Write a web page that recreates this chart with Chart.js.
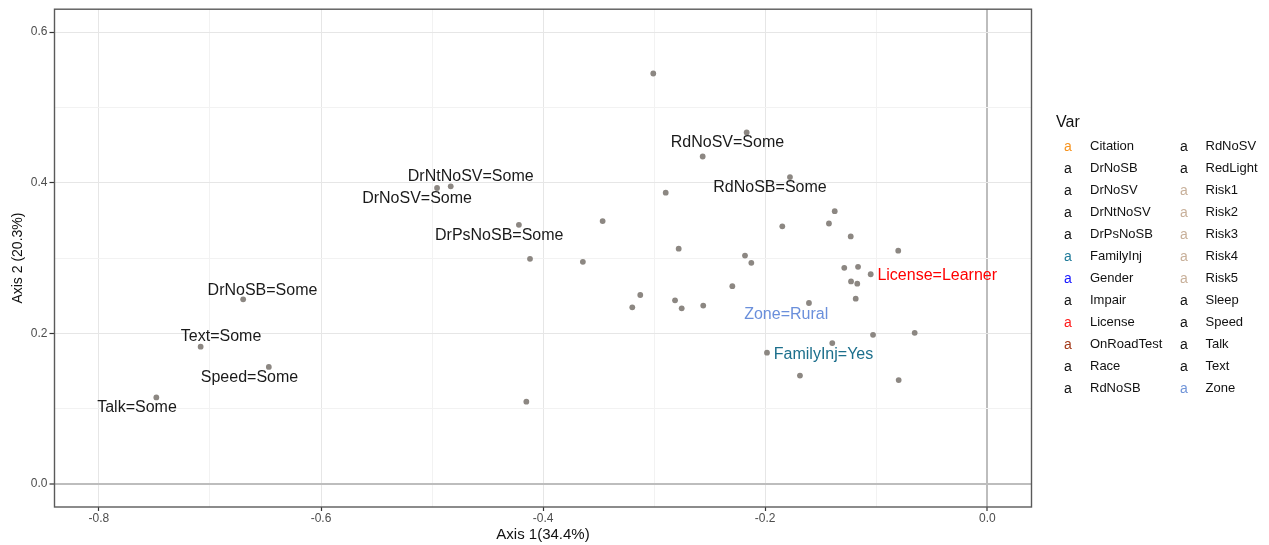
<!DOCTYPE html>
<html><head><meta charset="utf-8">
<script src="https://cdn.jsdelivr.net/npm/chart.js@4.4.1/dist/chart.umd.min.js"></script>
<style>html,body{margin:0;padding:0;background:#fff;}</style>
</head><body>
<canvas id="c" width="1269" height="545" style="width:1269px;height:545px;display:block"></canvas>
<script>
// Category points (Axis 1, Axis 2)
const pointX = [-0.3008,-0.2167,-0.2563,-0.1777,-0.2896,-0.3464,-0.1374,-0.1846,-0.1426,-0.1230,
  -0.2779,-0.0802,-0.2182,-0.2125,-0.1288,-0.1164,-0.1050,-0.1227,-0.1171,-0.2296,
  -0.3125,-0.3197,-0.2812,-0.2752,-0.2558,-0.1606,-0.1185,-0.1029,-0.0654,-0.1396,
  -0.1984,-0.1687,-0.0798,-0.4955,-0.4832,-0.4218,-0.4118,-0.3642,-0.6701,-0.7084,
  -0.6470,-0.7483,-0.4151];
const pointY = [0.5450,0.4668,0.4348,0.4075,0.3868,0.3491,0.3623,0.3422,0.3459,0.3288,
  0.3125,0.3099,0.3033,0.2937,0.2871,0.2884,0.2786,0.2690,0.2660,0.2628,
  0.2510,0.2347,0.2440,0.2334,0.2370,0.2404,0.2462,0.1982,0.2008,0.1873,
  0.1745,0.1441,0.1381,0.3930,0.3952,0.3442,0.2990,0.2950,0.2453,0.1824,
  0.1556,0.1151,0.1095];

// Text labels
const labelText = ['RdNoSV=Some','RdNoSB=Some','License=Learner','Zone=Rural','FamilyInj=Yes',
  'DrNtNoSV=Some','DrNoSV=Some','DrPsNoSB=Some','DrNoSB=Some','Text=Some','Speed=Some','Talk=Some'];
const labelX = [-0.2340,-0.1957,-0.0451,-0.1811,-0.1475,-0.4652,-0.5135,-0.4395,-0.6527,-0.6900,-0.6644,-0.7657];
const labelY = [0.4527,0.3930,0.2769,0.2251,0.1718,0.4079,0.3785,0.3297,0.2572,0.1952,0.1411,0.1011];
const labelColor = ['#1a1a1a','#1a1a1a','#ff0000','#6a8fdb','#1c6f8c','#1a1a1a','#1a1a1a','#1a1a1a','#1a1a1a','#1a1a1a','#1a1a1a','#1a1a1a'];

// Axis ticks
const xTicks = [-0.8,-0.7,-0.6,-0.5,-0.4,-0.3,-0.2,-0.1,0.0];
const xTickLabels = ['-0.8','','-0.6','','-0.4','','-0.2','','0.0'];
const yTicks = [0.0,0.1,0.2,0.3,0.4,0.5,0.6];
const yTickLabels = ['0.0','','0.2','','0.4','','0.6'];

// Legend
const legendTitle = 'Var';
const legendNames = ['Citation','DrNoSB','DrNoSV','DrNtNoSV','DrPsNoSB','FamilyInj','Gender','Impair','License','OnRoadTest','Race','RdNoSB',
  'RdNoSV','RedLight','Risk1','Risk2','Risk3','Risk4','Risk5','Sleep','Speed','Talk','Text','Zone'];
const legendColors = ['#f7931e','#111111','#111111','#111111','#111111','#1f7a99','#1414ff','#111111','#ff1a1a','#a33a1a','#111111','#111111',
  '#111111','#111111','#c8b09a','#c8b09a','#c8b09a','#c8b09a','#c8b09a','#111111','#111111','#111111','#111111','#7094d8'];

const FONT = "'Liberation Sans', Arial, Helvetica, sans-serif";

const overlay = {
  id: 'overlay',
  afterDatasetsDraw(chart) {
    const ctx = chart.ctx, xs = chart.scales.x, ys = chart.scales.y;
    ctx.save();
    ctx.font = '16px ' + FONT;
    ctx.textAlign = 'center';
    ctx.textBaseline = 'middle';
    for (let i = 0; i < labelText.length; i++) {
      ctx.fillStyle = labelColor[i];
      ctx.fillText(labelText[i], xs.getPixelForValue(labelX[i]), ys.getPixelForValue(labelY[i]));
    }
    ctx.restore();
  },
  afterDraw(chart) {
    const ctx = chart.ctx, a = chart.chartArea;
    ctx.save();
    ctx.strokeStyle = '#5a5a5a';
    ctx.lineWidth = 1.4;
    ctx.strokeRect(a.left, a.top, a.right - a.left, a.bottom - a.top);
    // legend
    ctx.fillStyle = '#111';
    ctx.font = '16px ' + FONT;
    ctx.textAlign = 'left';
    ctx.textBaseline = 'middle';
    ctx.fillText(legendTitle, 1056, 123);
    const rows = 12;
    for (let i = 0; i < legendNames.length; i++) {
      const col = Math.floor(i / rows), row = i % rows;
      const y = 146.7 + row * 22.0;
      const kx = col === 0 ? 1068 : 1184;
      const lx = col === 0 ? 1090 : 1205.5;
      ctx.font = '14px ' + FONT;
      ctx.textAlign = 'center';
      ctx.fillStyle = legendColors[i];
      ctx.fillText('a', kx, y);
      ctx.font = '13px ' + FONT;
      ctx.textAlign = 'left';
      ctx.fillStyle = '#111';
      ctx.fillText(legendNames[i], lx, y);
    }
    ctx.restore();
  }
};

function gridColor(labels, ticksArr) {
  return (c) => {
    const v = c.tick ? c.tick.value : null;
    if (v === null) return '#ebebeb';
    if (Math.abs(v) < 1e-9) return '#bdbdbd';
    const idx = ticksArr.findIndex(t => Math.abs(t - v) < 1e-9);
    return (idx >= 0 && labels[idx] !== '') ? '#e6e6e6' : '#f2f2f2';
  };
}
function gridWidth(c) {
  const v = c.tick ? c.tick.value : 1;
  return Math.abs(v) < 1e-9 ? 2 : 1;
}
function tickColor(labels, ticksArr) {
  return (c) => {
    const v = c.tick ? c.tick.value : null;
    const idx = ticksArr.findIndex(t => Math.abs(t - v) < 1e-9);
    return (idx >= 0 && labels[idx] !== '') ? '#333333' : 'rgba(0,0,0,0)';
  };
}

new Chart(document.getElementById('c'), {
  type: 'scatter',
  data: {
    datasets: [{
      data: pointX.map((x, i) => ({x: x, y: pointY[i]})),
      backgroundColor: '#8c8782',
      borderColor: '#8c8782',
      borderWidth: 0,
      pointRadius: 2.9,
      pointHoverRadius: 2.9
    }]
  },
  options: {
    responsive: false,
    devicePixelRatio: 1,
    animation: false,
    events: [],
    layout: { autoPadding: false, padding: { left: 0, top: 6, right: 237.5, bottom: 0 } },
    plugins: { legend: { display: false }, tooltip: { enabled: false } },
    scales: {
      x: {
        type: 'linear',
        min: -0.840, max: 0.0398,
        afterBuildTicks: (s) => { s.ticks = xTicks.map(v => ({value: v})); },
        afterFit: (s) => { s.height = 38; },
        ticks: {
          autoSkip: false, maxRotation: 0, padding: 0, color: '#4d4d4d',
          font: { family: FONT, size: 12 },
          callback: (v) => { const i = xTicks.findIndex(t => Math.abs(t - v) < 1e-9); return i >= 0 ? xTickLabels[i] : ''; }
        },
        grid: { color: gridColor(xTickLabels, xTicks), lineWidth: gridWidth, tickLength: 4,
                tickColor: tickColor(xTickLabels, xTicks), tickWidth: 1.2 },
        border: { display: false },
        title: { display: true, text: 'Axis 1(34.4%)', color: '#111', font: { family: FONT, size: 15 }, padding: { top: 0, bottom: 1 } }
      },
      y: {
        type: 'linear',
        min: -0.0303, max: 0.6303,
        afterBuildTicks: (s) => { s.ticks = yTicks.map(v => ({value: v})); },
        afterFit: (s) => { s.width = 54.5; },
        ticks: {
          autoSkip: false, padding: 2, color: '#4d4d4d',
          font: { family: FONT, size: 12 },
          callback: (v) => { const i = yTicks.findIndex(t => Math.abs(t - v) < 1e-9); return i >= 0 ? yTickLabels[i] : ''; }
        },
        grid: { color: gridColor(yTickLabels, yTicks), lineWidth: gridWidth, tickLength: 5,
                tickColor: tickColor(yTickLabels, yTicks), tickWidth: 1.2 },
        border: { display: false },
        title: { display: true, text: 'Axis 2 (20.3%)', color: '#111', font: { family: FONT, size: 14 }, padding: { top: 9.5, bottom: 0 } }
      }
    }
  },
  plugins: [overlay]
});
</script>
</body></html>
